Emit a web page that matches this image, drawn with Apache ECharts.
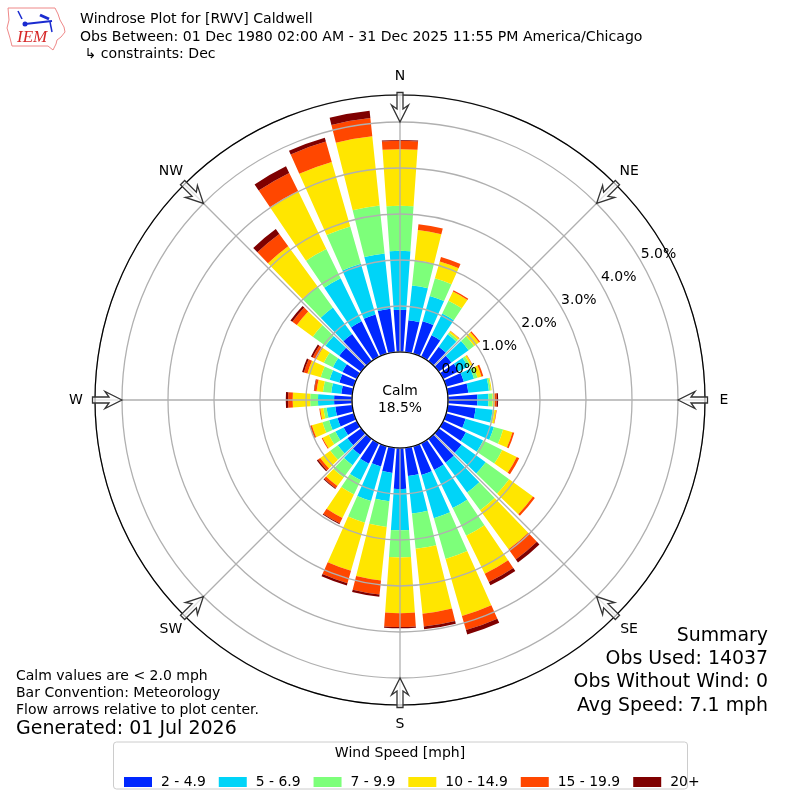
<!DOCTYPE html>
<html><head><meta charset="utf-8">
<style>html,body{margin:0;padding:0;background:#fff}#c{width:800px;height:800px}</style>
<script src="https://cdn.jsdelivr.net/npm/echarts@6/dist/echarts.min.js"></script>
</head><body><div id="c"></div>
<script>
const directions = Array.from({length:36},(_,i)=>String(i*10));
const speedBins = ['2 - 4.9','5 - 6.9','7 - 9.9','10 - 14.9','15 - 19.9','20+'];
const binColors = ['#0028ff','#00d4f8','#7dff7a','#ffe600','#ff4700','#7f0000'];
const bin1 = [.92,.70,.74,.52,.39,.34,.37,.40,.45,.64,.61,.44,.55,.61,.64,.65,.65,.62,.89,.55,.46,.50,.43,.37,.32,.37,.37,.39,.24,.33,.35,.59,.73,.86,.89,.95];
const bin2 = [1.28,.76,.57,.53,.33,.46,.23,.23,.45,.24,.37,.64,.42,.65,.80,.92,.98,.82,.90,.62,.78,.40,.28,.26,.20,.19,.19,.35,.22,.22,.23,.37,.71,1.04,1.15,1.21];
const bin3 = [.98,.55,.40,.31,.05,.15,.06,.08,.04,.09,.04,.21,.46,.63,.48,.67,.92,.77,.59,.56,.49,.34,.33,.20,.16,.15,.07,.17,.18,.20,.22,.34,.57,.71,.84,1.05];
const bin4 = [1.23,.66,.38,.22,.04,.13,.04,.09,.02,.05,.04,.21,.35,.64,1.05,.92,1.29,1.42,1.21,1.17,1.09,.57,.23,.27,.15,.24,.07,.38,.14,.30,.18,.43,1.08,1.40,1.46,1.51];
const bin5 = [.18,.13,.10,.03,.01,.03,.01,.04,0,.04,.01,.04,.06,.05,.27,.20,.32,.28,.30,.31,.28,.13,.06,.06,.02,.03,.02,.10,.05,.08,.09,.12,.33,.44,.46,.40];
const bin6 = [.02,0,0,0,0,0,0,0,0,.03,0,0,0,0,.08,.08,.10,.06,.03,.05,.05,.02,.02,.03,0,.01,0,.05,.01,.04,.04,.05,.13,.16,.09,.16];
const binValues = [bin1,bin2,bin3,bin4,bin5,bin6];
const compassAngles = [0,45,90,135,180,225,270,315];
const compassNames = ['N','NE','E','SE','S','SW','W','NW'];
const ARROW_BASE = 5, RMAX = 5.587;
const FONT = '"DejaVu Sans"';
const titleLines = ['Windrose Plot for [RWV] Caldwell','Obs Between: 01 Dec 1980 02:00 AM - 31 Dec 2025 11:55 PM America/Chicago',' \u21b3 constraints: Dec'];
const noteLines = ['Calm values are < 2.0 mph','Bar Convention: Meteorology','Flow arrows relative to plot center.'];
const summaryLines = ['Summary','Obs Used: 14037','Obs Without Wind: 0','Avg Speed: 7.1 mph'];

const txt=(x,y,text,size,align)=>({type:'text',x,y,z:50,silent:true,style:{text,fill:'#000',font:size+'px '+FONT,align:align||'left',verticalAlign:'middle'}});
const poly=(pts,stroke,w,fill)=>({type:fill?'polygon':'polyline',z:50,silent:true,shape:{points:pts},style:{stroke,lineWidth:w,fill:fill||null}});

const graphics=[
 poly([[8,8],[55,8],[58,14],[60,20],[64,27],[65,32],[61,37],[57,40],[56,44],[53,50],[48,46],[12,46],[10,38],[7,28],[9,20]],'#e88',1,'#fff'),
 poly([[25,24],[52,21]],'#1a2bd0',2),
 poly([[40,15],[49,19]],'#1a2bd0',3),
 poly([[18,11],[22,19]],'#1a2bd0',1.5),
 poly([[50,22],[52,32]],'#1a2bd0',1.5),
 {type:'circle',z:50,silent:true,shape:{cx:25,cy:24,r:2.5},style:{fill:'#1a2bd0'}},
 {type:'text',x:17,y:38,z:50,silent:true,style:{text:'IEM',fill:'#d62828',font:'italic 17px "Liberation Serif"',verticalAlign:'middle'}},
 txt(80,19,titleLines[0],14.1),txt(80,37,titleLines[1],14.1),txt(80,54,titleLines[2],14.1),
 txt(400,391,'Calm',13.9,'center'),txt(400,408,'18.5%',13.9,'center'),
 txt(16,676,noteLines[0],14),txt(16,693,noteLines[1],14),txt(16,710,noteLines[2],14),
 txt(16,729,'Generated: 01 Jul 2026',19),
 txt(768,636,summaryLines[0],18.9,'right'),txt(768,659,summaryLines[1],18.9,'right'),txt(768,682,summaryLines[2],18.9,'right'),txt(768,706,summaryLines[3],18.9,'right'),
 {type:'rect',z:40,silent:true,shape:{x:113.5,y:742,width:574,height:47,r:3},style:{fill:'#fff',stroke:'#ccc',lineWidth:1}},
 txt(400,753,'Wind Speed [mph]',14,'center')
];

const polarCommon={center:[400,400],radius:[48,305]};
const option={
 animation:false,
 textStyle:{fontFamily:FONT},
 polar:[polarCommon,polarCommon,polarCommon],
 angleAxis:[
  {polarIndex:0,type:'category',data:directions,startAngle:95,clockwise:true,boundaryGap:true,axisLine:{show:false},axisTick:{show:false},axisLabel:{show:false},splitLine:{show:false}},
  {polarIndex:1,type:'value',min:0,max:360,interval:45,startAngle:90,clockwise:true,z:5,
   axisLine:{show:true,lineStyle:{color:'#000',width:1.2}},axisTick:{show:false},axisLabel:{show:false},
   splitLine:{show:true,lineStyle:{color:'#b0b0b0',width:1.3}}},
  {polarIndex:2,type:'value',min:0,max:360,startAngle:30,clockwise:true,axisLine:{show:false},axisTick:{show:false},axisLabel:{show:false},splitLine:{show:false}}
 ],
 radiusAxis:[
  {polarIndex:0,type:'value',min:0,max:RMAX,axisLine:{show:false},axisTick:{show:false},axisLabel:{show:false},splitLine:{show:false}},
  {polarIndex:1,type:'value',min:0,max:RMAX,interval:1,z:5,axisLine:{show:false},axisTick:{show:false},axisLabel:{show:false},splitLine:{show:true,lineStyle:{color:'#b0b0b0',width:1.3}}},
  {polarIndex:2,type:'value',min:0,max:RMAX,interval:1,z:6,axisLine:{show:false},axisTick:{show:false},splitLine:{show:false},
   axisLabel:{show:true,showMaxLabel:false,margin:0,align:'left',verticalAlign:'bottom',color:'#000',fontSize:14,fontFamily:FONT,formatter:v=>Number.isInteger(v)?v.toFixed(1)+'%':''}}
 ],
 legend:{left:119,top:770,itemWidth:28,itemHeight:10,itemGap:13,z:45,icon:'rect',data:speedBins,
   textStyle:{fontSize:13.9,fontFamily:FONT,color:'#000',padding:[0,0,0,4]},selectedMode:false},
 series:[
  ...speedBins.map((name,i)=>({name,type:'bar',coordinateSystem:'polar',polarIndex:0,stack:'wind',barCategoryGap:'20%',
    data:binValues[i],itemStyle:{color:binColors[i]},z:2,silent:true})),
  {type:'custom',coordinateSystem:'polar',polarIndex:1,z:8,silent:true,
   data:compassAngles.map(a=>[ARROW_BASE,a]),
   encode:{radius:0,angle:1},
   renderItem:(params,api)=>{
     const a=api.value(1);
     const tip=api.coord([ARROW_BASE,a]);
     const rim=api.coord([RMAX,a]);
     const L=Math.hypot(rim[0]-tip[0],rim[1]-tip[1]);
     const ux=(rim[0]-tip[0])/L, uy=(rim[1]-tip[1])/L, nx=-uy, ny=ux;
     const P=(d,w)=>[tip[0]+ux*d+nx*w,tip[1]+uy*d+ny*w];
     const lab=P(46,0);
     return {type:'group',children:[
       {type:'polygon',shape:{points:[P(0,0),P(17,8.5),P(13,3),P(29.5,3),P(29.5,-3),P(13,-3),P(17,-8.5)]},
        style:{fill:'rgba(255,255,255,0.65)',stroke:'#333',lineWidth:1.3}},
       {type:'text',x:lab[0],y:lab[1],style:{text:compassNames[params.dataIndex],fill:'#000',font:'14px '+FONT,align:'center',verticalAlign:'middle'}}
     ]};
   }}
 ],
 graphic:{elements:graphics}
};
const chart=echarts.init(document.getElementById('c'),null,{renderer:'canvas'});
chart.setOption(option);
</script></body></html>
